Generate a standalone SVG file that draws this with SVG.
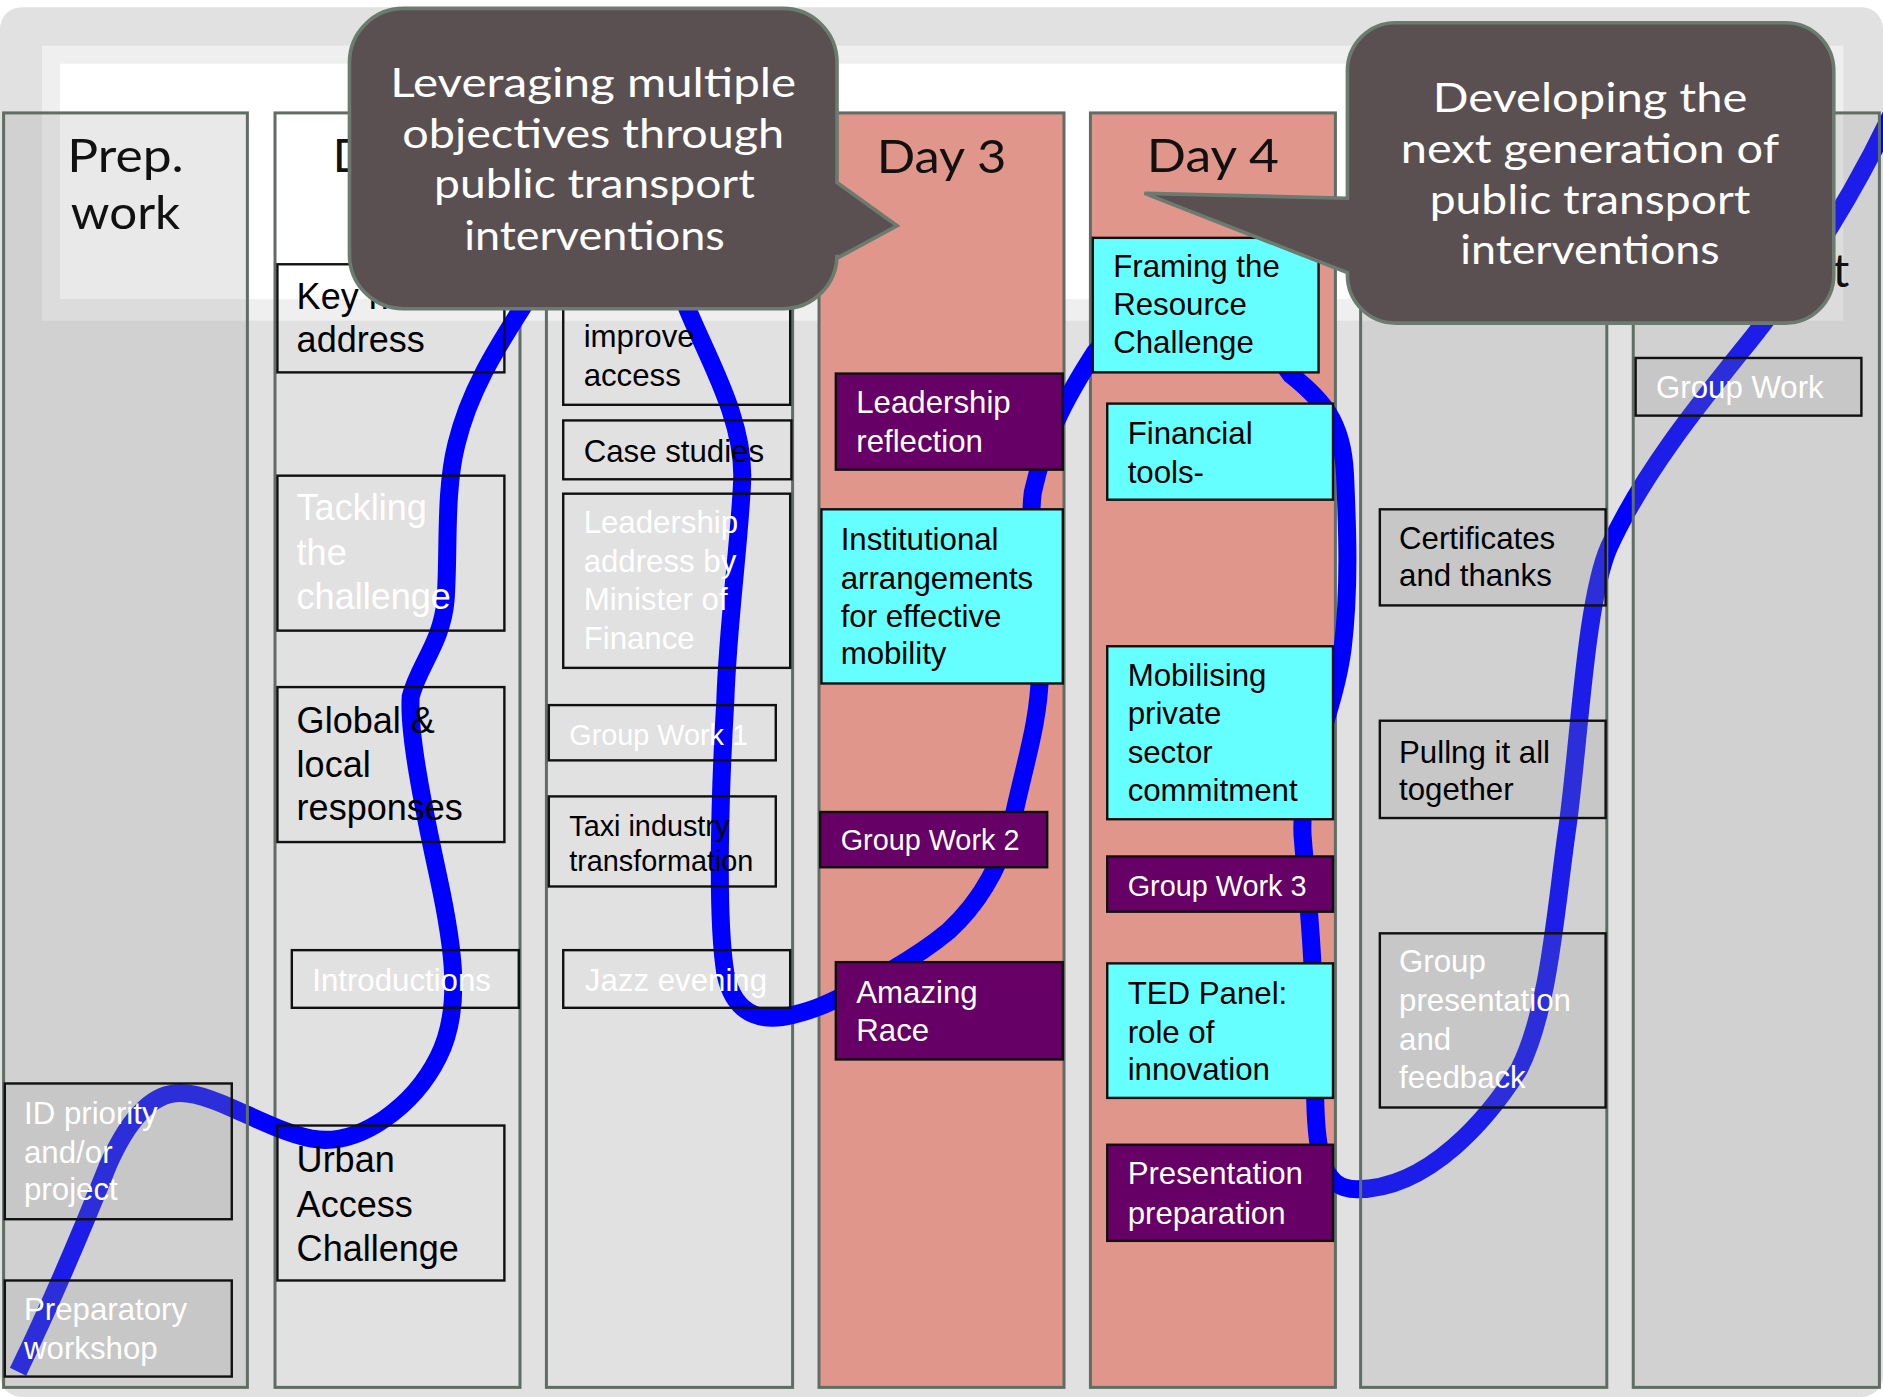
<svg xmlns="http://www.w3.org/2000/svg" width="1883" height="1397" viewBox="0 0 1883 1397">
<defs>
<style>
.col{stroke:#5f6d64;stroke-width:2.5}
.colg{fill:#8a938c;fill-opacity:0.2;stroke:#5f6d64;stroke-width:2.5}
.box{stroke:#111;stroke-width:2}
.bx0{fill:none}
.bxg{fill:#8a938c;fill-opacity:0.15}
.bxc{fill:#66ffff}
.bxp{fill:#660066}
.t{font-family:"Liberation Sans",Arial,sans-serif;font-size:26px}
.t24{font-size:24px}
.t29{font-size:30px}
.w{fill:#ffffff}
.k{fill:#000000}
.hd{font-family:Lato,"Liberation Sans",sans-serif;font-weight:400;font-size:39px;fill:#111}
.co{font-family:Lato,"Liberation Sans",sans-serif;font-weight:400;font-size:33px;fill:#ffffff;text-anchor:middle}
.callout{fill:#5a5052;stroke:#6c7b70;stroke-width:3}
.curve{fill:none;stroke:#0000ff;stroke-width:15}
</style>
</defs>
<rect width="1883" height="1397" fill="#ffffff"/>
<g transform="scale(1.2009,1.2012)">
  <g id="background">
    <rect x="0" y="6" width="1568" height="1157" rx="18" fill="#e1e1e1"/>
    <rect x="35" y="38" width="1500" height="229" fill="#efefef"/>
    <rect x="50" y="53" width="1470" height="196" fill="#ffffff"/>
  </g>
  <g id="columns-under">
    <rect id="col-day1" x="229" y="94" width="204" height="1061" fill="none" class="col"/>
    <text class="hd" x="277" y="143">D</text>
    <rect id="col-day2" x="455" y="94" width="205" height="1061" fill="none" class="col"/>
    <rect id="col-day3" x="682" y="94" width="204" height="1061" fill="#e0968a" class="col"/>
    <text class="hd" x="730" y="144" textLength="108" lengthAdjust="spacingAndGlyphs">Day 3</text>
    <rect id="col-day4" x="908" y="94" width="204" height="1061" fill="#e0968a" class="col"/>
    <text class="hd" x="955" y="143" textLength="110" lengthAdjust="spacingAndGlyphs">Day 4</text>
  </g>
  <g id="connectors">
    <path class="curve" d="M15,1142 C45,1080 70,1020 90,970 C110,925 130,910 150,910 C180,910 220,940 260,948 C300,955 345,920 365,880 C385,840 378,790 365,730 C352,670 340,610 342,580 C348,555 368,535 371,500 C374,460 370,410 380,370 C392,320 420,280 440,248 C470,190 550,190 572,256 C590,300 620,350 618,400 C616,450 606,520 604,583 C600,650 596,760 604,810 C612,850 640,850 660,845 C680,840 690,835 700,830 C720,820 760,800 790,775 C815,752 835,720 845,675 C855,630 865,600 866,560 C867,520 855,450 860,410 C870,365 885,335 912,293 C960,240 1040,260 1075,312 C1100,332 1118,350 1120,395 C1122,440 1124,490 1118,540 C1110,600 1080,650 1085,700 C1090,760 1095,800 1095,900 C1095,960 1100,990 1130,990 C1190,990 1240,930 1265,890 C1290,840 1295,760 1305,690 C1315,620 1320,500 1340,455 C1370,390 1420,330 1460,280 C1500,230 1540,170 1580,85"/>
  </g>
  <g id="columns-over">
    <rect id="col-prep" x="3" y="94" width="203" height="1061" class="colg"/>
    <text class="hd" x="56" y="143" textLength="97" lengthAdjust="spacingAndGlyphs">Prep.</text>
    <text class="hd" x="59" y="191" textLength="91" lengthAdjust="spacingAndGlyphs">work</text>
    <rect id="col-day5" x="1133" y="94" width="205" height="1061" class="colg"/>
    <rect id="col-day6" x="1360" y="94" width="205" height="1061" class="colg"/>
    <text class="hd" x="1526" y="239">t</text>
  </g>
  <g id="n-id-priority">
    <rect x="4" y="902" width="189" height="113" class="box bxg"/>
    <text class="t w" x="20" y="936">ID priority</text>
    <text class="t w" x="20" y="968">and/or</text>
    <text class="t w" x="20" y="999">project</text>
  </g>
  <g id="n-prep-workshop">
    <rect x="4" y="1066" width="189" height="80" class="box bxg"/>
    <text class="t w" x="20" y="1099">Preparatory</text>
    <text class="t w" x="20" y="1131">workshop</text>
  </g>
  <g id="n-keynote">
    <rect x="231" y="220" width="189" height="90" class="box bx0"/>
    <text class="t t29 k" x="247" y="257">Key note</text>
    <text class="t t29 k" x="247" y="293">address</text>
  </g>
  <g id="n-tackling">
    <rect x="231" y="396" width="189" height="129" class="box bx0"/>
    <text class="t t29 w" x="247" y="433">Tackling</text>
    <text class="t t29 w" x="247" y="470">the</text>
    <text class="t t29 w" x="247" y="507">challenge</text>
  </g>
  <g id="n-global">
    <rect x="231" y="572" width="189" height="129" class="box bx0"/>
    <text class="t t29 k" x="247" y="610">Global &amp;</text>
    <text class="t t29 k" x="247" y="647">local</text>
    <text class="t t29 k" x="247" y="683">responses</text>
  </g>
  <g id="n-introductions">
    <rect x="243" y="791" width="189" height="48" class="box bx0"/>
    <text class="t w" x="260" y="825">Introductions</text>
  </g>
  <g id="n-urban">
    <rect x="231" y="937" width="189" height="129" class="box bx0"/>
    <text class="t t29 k" x="247" y="976">Urban</text>
    <text class="t t29 k" x="247" y="1013">Access</text>
    <text class="t t29 k" x="247" y="1050">Challenge</text>
  </g>
  <g id="n-improve">
    <rect x="469" y="222" width="189" height="115" class="box bx0"/>
    <text class="t k" x="486" y="289">improve</text>
    <text class="t k" x="486" y="321">access</text>
  </g>
  <g id="n-case">
    <rect x="469" y="350" width="190" height="49" class="box bx0"/>
    <text class="t k" x="486" y="385">Case studies</text>
  </g>
  <g id="n-leader-address">
    <rect x="469" y="411" width="189" height="145" class="box bx0"/>
    <text class="t w" x="486" y="444">Leadership</text>
    <text class="t w" x="486" y="476">address by</text>
    <text class="t w" x="486" y="508">Minister of</text>
    <text class="t w" x="486" y="540">Finance</text>
  </g>
  <g id="n-gw1">
    <rect x="457" y="587" width="189" height="46" class="box bx0"/>
    <text class="t t24 w" x="474" y="620">Group Work 1</text>
  </g>
  <g id="n-taxi">
    <rect x="457" y="663" width="189" height="75" class="box bx0"/>
    <text class="t t24 k" x="474" y="696">Taxi industry</text>
    <text class="t t24 k" x="474" y="725">transformation</text>
  </g>
  <g id="n-jazz">
    <rect x="469" y="791" width="189" height="48" class="box bx0"/>
    <text class="t w" x="487" y="825">Jazz evening</text>
  </g>
  <g id="n-lead-reflect">
    <rect x="696" y="311" width="189" height="80" class="box bxp"/>
    <text class="t w" x="713" y="344">Leadership</text>
    <text class="t w" x="713" y="376">reflection</text>
  </g>
  <g id="n-institutional">
    <rect x="684" y="424" width="201" height="145" class="box bxc"/>
    <text class="t k" x="700" y="458">Institutional</text>
    <text class="t k" x="700" y="490">arrangements</text>
    <text class="t k" x="700" y="522">for effective</text>
    <text class="t k" x="700" y="553">mobility</text>
  </g>
  <g id="n-gw2">
    <rect x="683" y="676" width="189" height="46" class="box bxp"/>
    <text class="t t24 w" x="700" y="708">Group Work 2</text>
  </g>
  <g id="n-amazing">
    <rect x="696" y="801" width="189" height="81" class="box bxp"/>
    <text class="t w" x="713" y="835">Amazing</text>
    <text class="t w" x="713" y="867">Race</text>
  </g>
  <g id="n-framing">
    <rect x="910" y="198" width="188" height="112" class="box bxc"/>
    <text class="t k" x="927" y="231">Framing the</text>
    <text class="t k" x="927" y="262">Resource</text>
    <text class="t k" x="927" y="294">Challenge</text>
  </g>
  <g id="n-financial">
    <rect x="922" y="336" width="188" height="80" class="box bxc"/>
    <text class="t k" x="939" y="370">Financial</text>
    <text class="t k" x="939" y="402">tools-</text>
  </g>
  <g id="n-mobilising">
    <rect x="922" y="538" width="188" height="144" class="box bxc"/>
    <text class="t k" x="939" y="571">Mobilising</text>
    <text class="t k" x="939" y="603">private</text>
    <text class="t k" x="939" y="635">sector</text>
    <text class="t k" x="939" y="667">commitment</text>
  </g>
  <g id="n-gw3">
    <rect x="922" y="713" width="188" height="46" class="box bxp"/>
    <text class="t t24 w" x="939" y="746">Group Work 3</text>
  </g>
  <g id="n-ted">
    <rect x="922" y="802" width="188" height="112" class="box bxc"/>
    <text class="t k" x="939" y="836">TED Panel:</text>
    <text class="t k" x="939" y="868">role of</text>
    <text class="t k" x="939" y="899">innovation</text>
  </g>
  <g id="n-presentation">
    <rect x="922" y="953" width="188" height="80" class="box bxp"/>
    <text class="t w" x="939" y="986">Presentation</text>
    <text class="t w" x="939" y="1019">preparation</text>
  </g>
  <g id="n-certificates">
    <rect x="1149" y="424" width="188" height="80" class="box bxg"/>
    <text class="t k" x="1165" y="457">Certificates</text>
    <text class="t k" x="1165" y="488">and thanks</text>
  </g>
  <g id="n-pulling">
    <rect x="1149" y="600" width="188" height="81" class="box bxg"/>
    <text class="t k" x="1165" y="635">Pullng it all</text>
    <text class="t k" x="1165" y="666">together</text>
  </g>
  <g id="n-group-presentation">
    <rect x="1149" y="777" width="188" height="145" class="box bxg"/>
    <text class="t w" x="1165" y="809">Group</text>
    <text class="t w" x="1165" y="842">presentation</text>
    <text class="t w" x="1165" y="874">and</text>
    <text class="t w" x="1165" y="906">feedback</text>
  </g>
  <g id="n-group-work">
    <rect x="1362" y="298" width="188" height="48" class="box bxg"/>
    <text class="t w" x="1379" y="331">Group Work</text>
  </g>
  <g id="callout-1">
    <path class="callout" d="M336,7 H652 A45,45 0 0 1 697,52 V152 L747,188 L697,215 V212 A45,45 0 0 1 652,257 H336 A45,45 0 0 1 291,212 V52 A45,45 0 0 1 336,7 Z"/>
    <text class="co" x="494" y="81" textLength="338" lengthAdjust="spacingAndGlyphs">Leveraging multiple</text>
    <text class="co" x="494" y="123" textLength="318" lengthAdjust="spacingAndGlyphs">objectives through</text>
    <text class="co" x="495" y="165" textLength="267" lengthAdjust="spacingAndGlyphs">public transport</text>
    <text class="co" x="495" y="208" textLength="217" lengthAdjust="spacingAndGlyphs">interventions</text>
  </g>
  <g id="callout-2">
    <path class="callout" d="M1162,19 H1487 A40,40 0 0 1 1527,59 V229 A40,40 0 0 1 1487,269 H1162 A40,40 0 0 1 1122,229 V227 L953,161 L1122,165 V59 A40,40 0 0 1 1162,19 Z"/>
    <text class="co" x="1324" y="93" textLength="262" lengthAdjust="spacingAndGlyphs">Developing the</text>
    <text class="co" x="1324" y="136" textLength="315" lengthAdjust="spacingAndGlyphs">next generation of</text>
    <text class="co" x="1324" y="178" textLength="267" lengthAdjust="spacingAndGlyphs">public transport</text>
    <text class="co" x="1324" y="220" textLength="216" lengthAdjust="spacingAndGlyphs">interventions</text>
  </g>
</g>
</svg>
